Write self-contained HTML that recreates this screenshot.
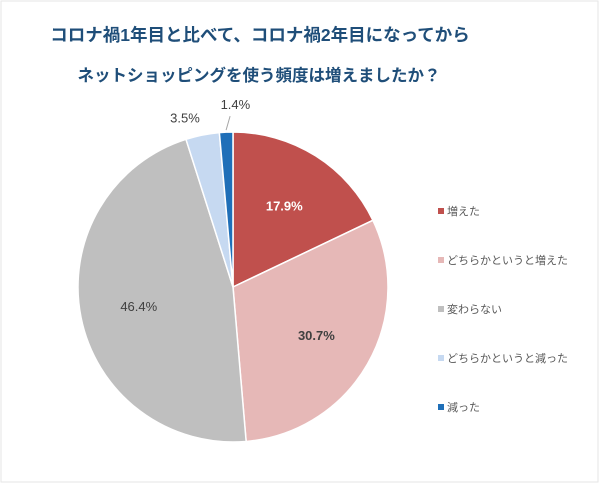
<!DOCTYPE html>
<html><head><meta charset="utf-8"><style>
body{margin:0;background:#fff}
#wrap{position:relative;width:600px;height:484px;overflow:hidden;background:#fff;font-family:"Liberation Sans","Noto Sans CJK JP",sans-serif}
.title{position:absolute;left:0;width:520px;text-align:center;color:#1f4e79;font-weight:bold;font-family:"Liberation Sans","Noto Sans CJK JP",sans-serif;white-space:nowrap}
</style></head><body>
<div id="wrap">
<div class="title" style="top:22px;font-size:17.5px">コロナ禍1年目と比べて、コロナ禍2年目になってから</div>
<div class="title" style="top:62px;font-size:16.5px;width:518px">ネットショッピングを使う頻度は増えましたか？</div>
<svg id="chart" width="600" height="484" style="position:absolute;left:0;top:0">
<rect x="1" y="1" width="597" height="481" fill="none" stroke="#e6e6e6"/>
</svg>
</div>
<script>
const categories=["増えた","どちらかというと増えた","変わらない","どちらかというと減った","減った"];
const values=[17.9,30.7,46.4,3.5,1.4];
const labels=["17.9%","30.7%","46.4%","3.5%","1.4%"];
const colors=["#c0504d","#e6b8b7","#bfbfbf","#c6d9f1","#1f6fb8"];
const svg=document.getElementById('chart');
const NS='http://www.w3.org/2000/svg';
const cx=233,cy=287,r=155;
const total=values.reduce((a,b)=>a+b,0);
function pt(a,rr){return [cx+rr*Math.sin(a),cy-rr*Math.cos(a)];}
let a0=0;
values.forEach((v,i)=>{
  const a1=a0+v/total*2*Math.PI;
  const p0=pt(a0,r),p1=pt(a1,r);
  const large=(a1-a0)>Math.PI?1:0;
  const path=document.createElementNS(NS,'path');
  path.setAttribute('d',`M${cx},${cy}L${p0[0]},${p0[1]}A${r},${r} 0 ${large} 1 ${p1[0]},${p1[1]}Z`);
  path.setAttribute('fill',colors[i]);
  path.setAttribute('stroke','#fff');
  path.setAttribute('stroke-width','1.5');
  
  
  svg.appendChild(path);
  const mid=(a0+a1)/2;
  const t=document.createElementNS(NS,'text');
  let lp, fill='#404040', weight='normal';
  if(v>10){lp=pt(mid,r*0.62); if(i===0){fill='#fff';} weight = i===2?'normal':'bold';}
  else{lp=pt(mid,r+18); if(i===4){lp=[lp[0]+10,lp[1]-10];
    const ln=document.createElementNS(NS,'line');
    const q=pt(mid,r+2);
    ln.setAttribute('x1',q[0]);ln.setAttribute('y1',q[1]);ln.setAttribute('x2',q[0]+4);ln.setAttribute('y2',q[1]-14);
    ln.setAttribute('stroke','#a6a6a6');
    
    
    svg.appendChild(ln);}
    else lp=[lp[0]-14,lp[1]];}
  t.setAttribute('x',lp[0]);t.setAttribute('y',lp[1]+5);
  t.setAttribute('text-anchor','middle');t.setAttribute('font-size','13');
  t.setAttribute('font-weight',weight);t.setAttribute('fill',fill);
  t.setAttribute('font-family','"Liberation Sans",sans-serif');
  t.textContent=labels[i];
  
  
  svg.appendChild(t);
  a0=a1;
});
categories.forEach((c,i)=>{
  const y=211+i*49;
  const g=document.createElementNS(NS,'g');
  
  
  const s=document.createElementNS(NS,'rect');
  s.setAttribute('x',438);s.setAttribute('y',y-3);s.setAttribute('width',6);s.setAttribute('height',6);
  s.setAttribute('fill',colors[i]);
  g.appendChild(s);
  const t=document.createElementNS(NS,'text');
  t.setAttribute('x',447);t.setAttribute('y',y+4);
  t.setAttribute('font-size','11');t.setAttribute('fill','#595959');
  t.setAttribute('font-family','"Liberation Sans","Noto Sans CJK JP",sans-serif');
  t.textContent=c;
  g.appendChild(t);
  svg.appendChild(g);
});
</script>
</body></html>
